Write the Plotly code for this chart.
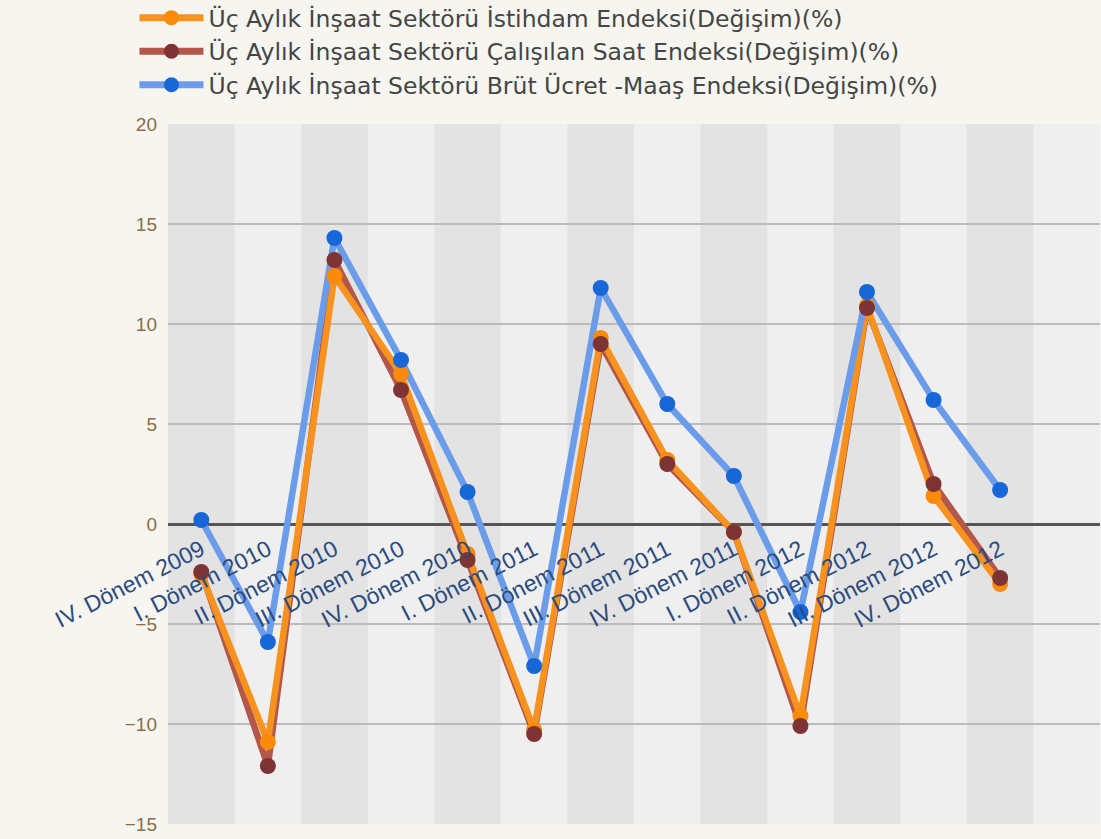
import plotly.graph_objects as go

# Quarterly construction-sector index changes (%)
categories = [
    "IV. Dönem 2009", "I. Dönem 2010", "II. Dönem 2010", "III. Dönem 2010",
    "IV. Dönem 2010", "I. Dönem 2011", "II. Dönem 2011", "III. Dönem 2011",
    "IV. Dönem 2011", "I. Dönem 2012", "II. Dönem 2012", "III. Dönem 2012",
    "IV. Dönem 2012",
]
istihdam = [-2.5, -10.9, 12.4, 7.5, -1.5, -10.3, 9.3, 3.2, -0.4, -9.6, 10.9, 1.4, -3.0]
calisilan_saat = [-2.4, -12.1, 13.2, 6.7, -1.8, -10.5, 9.0, 3.0, -0.4, -10.1, 10.8, 2.0, -2.7]
brut_ucret = [0.2, -5.9, 14.3, 8.2, 1.6, -7.1, 11.8, 6.0, 2.4, -4.4, 11.6, 6.2, 1.7]

series = [
    ("Üç Aylık İnşaat Sektörü İstihdam Endeksi(Değişim)(%)", istihdam, "#F7921F", "#F98A0A"),
    ("Üç Aylık İnşaat Sektörü Çalışılan Saat Endeksi(Değişim)(%)", calisilan_saat, "#B2574A", "#7E3434"),
    ("Üç Aylık İnşaat Sektörü Brüt Ücret -Maaş Endeksi(Değişim)(%)", brut_ucret, "#6A9CEA", "#1767D8"),
]

y_ticks = [-15, -10, -5, 0, 5, 10, 15, 20]
x_idx = list(range(len(categories)))
n_cols = len(categories) + 1

fig = go.Figure()

# lines first (brown under orange, blue on top), then markers above all lines
for k in (1, 0, 2):
    name, vals, lc, mc = series[k]
    fig.add_trace(go.Scatter(x=x_idx, y=vals, mode="lines", showlegend=False,
                             line=dict(color=lc, width=6.5), hoverinfo="skip"))
for k in (0, 1, 2):
    name, vals, lc, mc = series[k]
    fig.add_trace(go.Scatter(x=x_idx, y=vals, mode="markers", name=name, showlegend=False,
                             marker=dict(color=mc, size=16)))
# legend entries
for name, vals, lc, mc in series:
    fig.add_trace(go.Scatter(x=[None], y=[None], mode="lines+markers", name=name,
                             line=dict(color=lc, width=7), marker=dict(color=mc, size=15)))

# alternating column bands
shapes = []
for i in range(0, n_cols, 2):
    shapes.append(dict(type="rect", xref="x", yref="paper", x0=i - 0.5, x1=i + 0.5,
                       y0=0, y1=1, fillcolor="#E3E3E3", line=dict(width=0), layer="below"))

zero_pos = (0 - y_ticks[0]) / (y_ticks[-1] - y_ticks[0])

fig.update_layout(
    width=1101, height=839,
    margin=dict(l=168, r=1, t=124, b=15, autoexpand=False),
    paper_bgcolor="#F7F5EF",
    plot_bgcolor="#EFEFEF",
    shapes=shapes,
    showlegend=True,
    legend=dict(x=-0.036, y=1.183, xanchor="left", yanchor="top",
                bgcolor="rgba(0,0,0,0)", font=dict(family="DejaVu Sans", size=23.5, color="#454545"),
                tracegroupgap=0, itemwidth=64),
    xaxis=dict(range=[-0.5, n_cols - 0.5], tickmode="array", tickvals=x_idx, ticktext=categories,
               tickangle=-27, showgrid=False, zeroline=False, showline=False,
               anchor="free", position=zero_pos, ticks="", ticklabelstandoff=7,
               tickfont=dict(family="Liberation Sans", size=23, color="#2B4B7E")),
    yaxis=dict(range=[y_ticks[0], y_ticks[-1]], tickmode="array", tickvals=y_ticks,
               showgrid=True, gridcolor="#BBBBBB", gridwidth=1.5,
               zeroline=True, zerolinecolor="#555555", zerolinewidth=2.5,
               showline=False, ticks="", ticklabelstandoff=10,
               tickfont=dict(family="Liberation Sans", size=19, color="#8A6D45")),
)

fig.write_html("out.html")
